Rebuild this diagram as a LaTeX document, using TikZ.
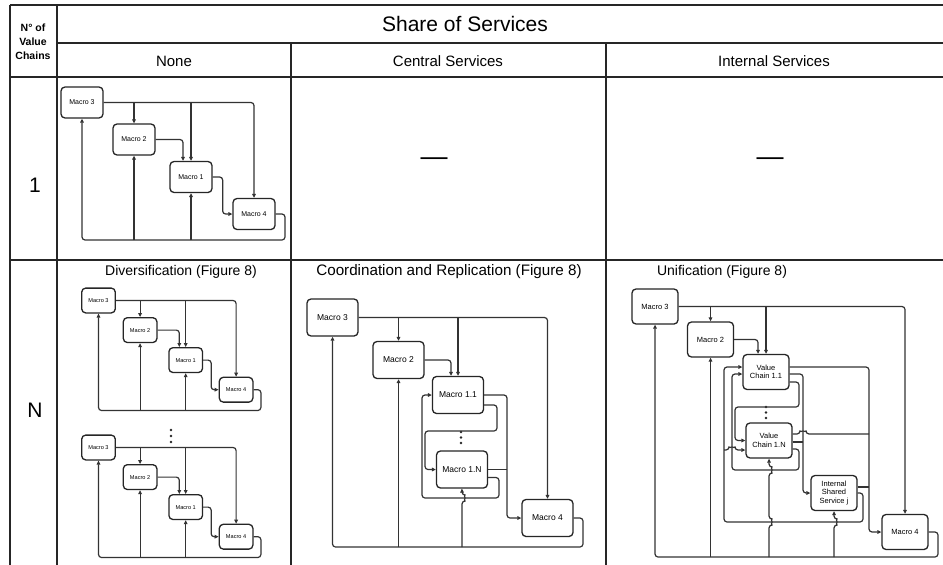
\documentclass[tikz,border=0pt]{standalone}
\usepackage{fontspec}
\setmainfont{Liberation Sans}
\usetikzlibrary{arrows.meta,calc}

% A chain of four macro processes with its feedback loop.
% #1 name prefix, #2/#3 centre of "Macro 3", #4 scale, #5 font size
\newcommand{\fourchain}[5]{%
  \def\fcX{#2}\def\fcY{#3}\def\fcS{#4}%
  \tikzset{fcbox/.style={mbox,minimum width={42*#4},minimum height={31*#4},
      font=\fontsize{#5}{#5}\selectfont}}%
  \node[fcbox] (#1m3) at (\fcX,\fcY) {Macro 3};
  \node[fcbox] (#1m2) at ({\fcX+52*\fcS},{\fcY+37*\fcS}) {Macro 2};
  \node[fcbox] (#1m1) at ({\fcX+109*\fcS},{\fcY+74.5*\fcS}) {Macro 1};
  \node[fcbox] (#1m4) at ({\fcX+172*\fcS},{\fcY+111.5*\fcS}) {Macro 4};
  \coordinate (#1br) at ({\fcX+203*\fcS},{\fcY+137.5*\fcS});
  \draw[arr] (#1m3.east) -| (#1m4.north);
  \draw[arr] (#1m3.east -| #1m2.north) -- (#1m2.north);
  \draw[arr] (#1m3.east -| #1m1.north) -- (#1m1.north);
  \draw[arr] (#1m2.east) -| ($(#1m1.north)+({-8*\fcS},0)$);
  \draw[arr] (#1m1.east) -- ++({10*\fcS},0) |- (#1m4.west);
  \draw[arr] (#1m4.east) -| (#1br) -| (#1m3.south);
  \draw[arr] (#1m2.south |- #1br) -- (#1m2.south);
  \draw[arr] (#1m1.south |- #1br) -- (#1m1.south);
}

\begin{document}
\begin{tikzpicture}[x=1pt,y=-1pt,
  tab/.style={line width=1.6pt,draw=black!85},
  mbox/.style={draw=black!85,line width=1.3pt,rounded corners=4pt,fill=white,
    inner sep=1pt,align=center},
  conn/.style={draw=black!80,line width=1.2pt,rounded corners=3pt},
  arr/.style={conn,-{Triangle[length=4pt,width=3.6pt]}},
  head/.style={font=\fontsize{15}{17}\selectfont},
  title/.style={font=\fontsize{14}{16}\selectfont},
  cbox/.style={mbox,minimum width=51pt,minimum height=37pt,font=\fontsize{8.5}{10}\selectfont},
  ubox/.style={mbox,minimum width=46pt,minimum height=35pt,font=\fontsize{7.5}{8.5}\selectfont},
  dot/.style={fill=black!85}]

\useasboundingbox (0,0) rectangle (943,565);
\fill[white] (0,0) rectangle (943,565);

% ---------- table grid ----------
\draw[tab] (10,5) -- (943,5);
\draw[tab] (57,43) -- (943,43);
\draw[tab] (10,77) -- (943,77);
\draw[tab] (10,260) -- (943,260);
\draw[tab] (10,5) -- (10,565);
\draw[tab] (57,5) -- (57,565);
\draw[tab] (291,43) -- (291,565);
\draw[tab] (606,43) -- (606,565);

% ---------- headers ----------
\node[font=\bfseries\fontsize{10.5}{14}\selectfont,align=center] (hdchains) at (33,42) {N° of\\Value\\Chains};
\node[font=\fontsize{21}{24}\selectfont] (hdshare) at (465,24) {Share of Services};
\node[head] (hdnone) at (174,61) {None};
\node[head] (hdcentral) at (448,61) {Central Services};
\node[head] (hdinternal) at (774,61) {Internal Services};
\node[font=\fontsize{21}{24}\selectfont] (rowone) at (35,185) {1};
\node[font=\fontsize{21}{24}\selectfont] (rown) at (35,410) {N};
\node[font=\fontsize{27}{30}\selectfont] (dashcentral) at (434,162) {—};
\node[font=\fontsize{27}{30}\selectfont] (dashinternal) at (770,162) {—};

\node[title] (tdiv) at (181,272) {Diversification (Figure 8)};
\node[title,font=\fontsize{15.2}{17}\selectfont] (tcoord) at (449,272) {Coordination and Replication (Figure 8)};
\node[title] (tunif) at (722,272) {Unification (Figure 8)};

% ---------- single value chain ----------
\fourchain{one}{82}{102.5}{1}{7}

% ---------- diversification ----------
\fourchain{dv}{98.5}{300.5}{0.8}{5.6}
\fill[dot] (171,430) circle (1.3) (171,436) circle (1.3) (171,442) circle (1.3);
\fourchain{dw}{98.5}{447.5}{0.8}{5.6}

% ---------- coordination and replication ----------
\node[cbox] (cr3) at (332.5,317.5) {Macro 3};
\node[cbox] (cr2) at (398.5,360) {Macro 2};
\node[cbox] (cr11) at (458,395) {Macro 1.1};
\node[cbox] (cr1n) at (462,469.5) {Macro 1.N};
\node[cbox] (cr4) at (547.5,518) {Macro 4};
\fill[dot] (461,432) circle (1.3) (461,437.5) circle (1.3) (461,443) circle (1.3);

\coordinate (crm) at (507,0);
\coordinate (crA) at (497,431);
\coordinate (crB) at (425,431);
\coordinate (crC) at (499,498);
\coordinate (crD) at (422,498);
\coordinate (crbr) at (583,547);

\draw[arr] (cr3.east) -| (cr4.north);
\draw[arr] (cr3.east -| cr2.north) -- (cr2.north);
\draw[arr] (cr3.east -| cr11.north) -- (cr11.north);
\draw[arr] (cr2.east) -| ($(cr11.north)+(-7,0)$);
\draw[arr] (cr11.east) -- (cr11.east -| crm) |- (cr4.west);
\draw[conn] (cr1n.east) -- (cr1n.east -| crm);
\draw[arr] ($(cr11.east)+(0,10)$) -| (crA) -- (crB) |- (cr1n.west);
\draw[arr] ($(cr1n.east)+(0,8)$) -| (crC) -- (crD) |- (cr11.west);
\draw[arr] (cr4.east) -| (crbr) -| (cr3.south);
\draw[arr] (cr2.south |- crbr) -- (cr2.south);
\draw[arr] (cr1n.south |- crbr) -- ($(cr1n.south |- crC)+(0,3)$)
  arc[start angle=90,end angle=-90,radius=3] -- (cr1n.south);

% ---------- unification ----------
\node[ubox] (un3) at (655,306.5) {Macro 3};
\node[ubox] (un2) at (710.5,339.5) {Macro 2};
\node[ubox] (un11) at (766,372) {Value\\Chain 1.1};
\node[ubox] (un1n) at (769,440.5) {Value\\Chain 1.N};
\node[ubox] (unis) at (834,493) {Internal\\Shared\\Service j};
\node[ubox] (un4) at (905,532) {Macro 4};
\fill[dot] (766,407) circle (1.3) (766,412.5) circle (1.3) (766,418) circle (1.3);

\coordinate (unm) at (869,0);
\coordinate (unv) at (803,0);
\coordinate (unl) at (799,0);
\coordinate (unp) at (735,0);
\coordinate (unq) at (732,0);
\coordinate (unr) at (724,0);
\coordinate (unw) at (863,0);
\coordinate (unk) at (0,407);
\coordinate (unh) at (0,470);
\coordinate (ung) at (0,522);
\coordinate (unbr) at (938,557);

\draw[arr] (un3.east) -| (un4.north);
\draw[arr] (un3.east -| un2.north) -- (un2.north);
\draw[arr] (un3.east -| un11.north) -- (un11.north);
\draw[arr] (un2.east) -| ($(un11.north)+(-8,0)$);
% outputs gathered into Macro 4
\draw[arr] ($(un11.east)+(0,-5)$) -| (unm |- un4.west) -- (un4.west);
\draw[conn] ($(un1n.east)+(0,-6.5)$) coordinate (unt1) -- ($(unt1 -| unv)+(-3,0)$)
  arc[start angle=180,end angle=360,radius=3] -- (unt1 -| unm);
\draw[conn] ($(unis.east)+(0,-6)$) coordinate (unt2) -- (unt2 -| unm);
% outputs gathered into the shared service
\draw[arr] ($(un11.east)+(0,2)$) -| (unv |- unis.west) -- (unis.west);
\draw[conn] ($(un1n.east)+(0,1.5)$) coordinate (unt3) -- (unt3 -| unv);
% exchange between the value chains
\draw[arr] ($(un11.east)+(0,10)$) -| (unl |- unk) -- (unp |- unk) |- (un1n.west);
\draw[arr] ($(un1n.east)+(0,8.5)$) -| (unl |- unh) -- (unq |- unh) |- ($(un11.west)+(0,2)$);
% shared service back to the value chains
\draw[arr] (unis.east) -| (unw |- ung) -- (unr |- ung) |- ($(un11.west)+(0,-5)$);
\coordinate (unt4) at ($(un1n.west)+(0,9.5)$);
\draw[arr] (unr |- unt4) -- ($(unq |- unt4)+(-3,0)$)
  arc[start angle=180,end angle=360,radius=3] -- (unt4);
% feedback loop
\draw[arr] (un4.east) -| (unbr) -| (un3.south);
\draw[arr] (un2.south |- unbr) -- (un2.south);
\draw[arr] (un1n.south |- unbr) -- ($(un1n.south |- ung)+(0,3)$)
  arc[start angle=90,end angle=-90,radius=3] -- ($(un1n.south |- unh)+(0,3)$)
  arc[start angle=90,end angle=-90,radius=3] -- (un1n.south);
\draw[arr] (unis.south |- unbr) -- ($(unis.south |- ung)+(0,3)$)
  arc[start angle=90,end angle=-90,radius=3] -- (unis.south);
\end{tikzpicture}
\end{document}
